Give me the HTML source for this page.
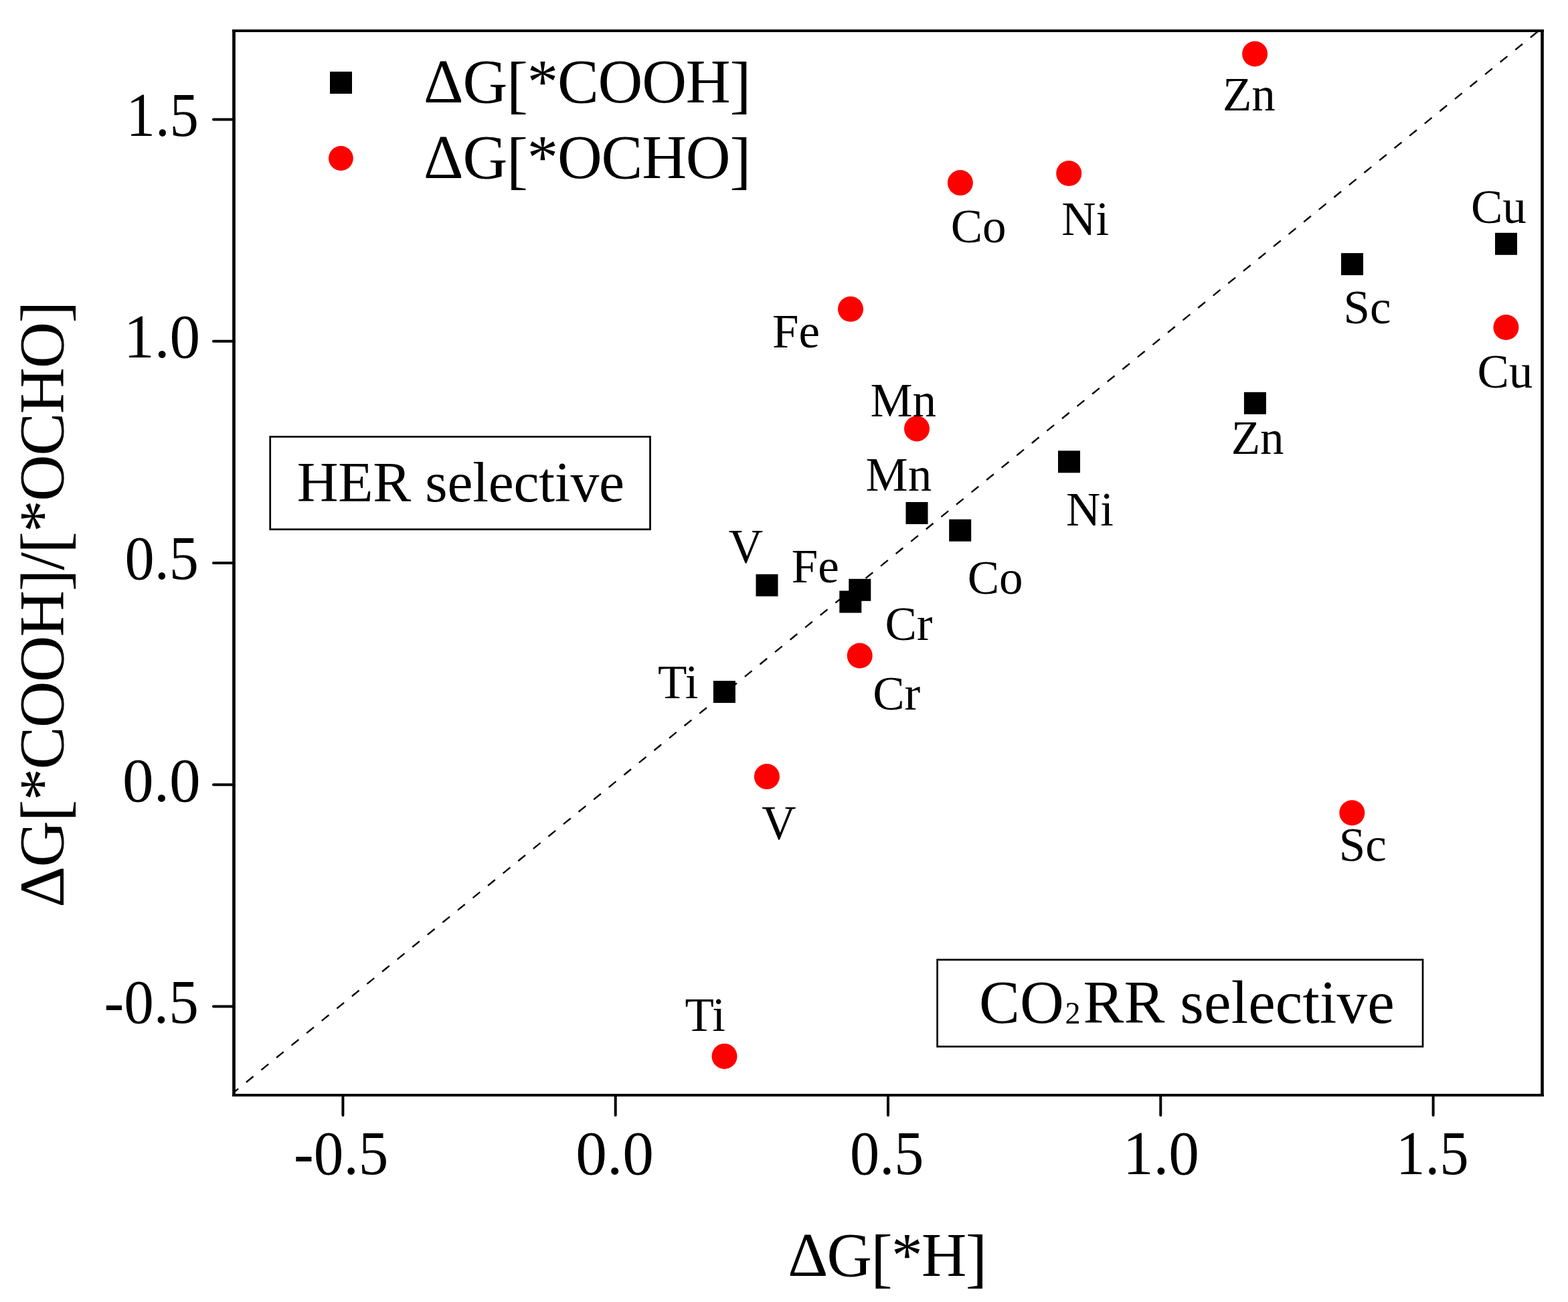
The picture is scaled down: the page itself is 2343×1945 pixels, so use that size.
<!DOCTYPE html>
<html><head><meta charset="utf-8"><title>Free energy comparison plot</title>
<style>html,body{margin:0;padding:0;background:#fff;overflow:hidden}svg{display:block}</style>
</head><body>
<svg width="2343" height="1945" viewBox="0 0 2343 1945" font-family="&quot;Liberation Serif&quot;, &quot;Times New Roman&quot;, serif">
<rect width="2343" height="1945" fill="#fff"/>
<line x1="349.5" y1="1631.7" x2="2300.44" y2="45.0" stroke="#000" stroke-width="2.4" stroke-dasharray="13.8 15.3" stroke-dashoffset="5.4"/>
<rect x="403.7" y="652.4" width="567.8" height="138.4" fill="none" stroke="#000" stroke-width="2.7"/>
<rect x="1400.6" y="1433.7" width="725.4" height="129.7" fill="none" stroke="#000" stroke-width="2.7"/>
<g fill="#000"><rect x="2234.0" y="347.8" width="33" height="33"/><rect x="2004.0" y="378.1" width="33" height="33"/><rect x="1858.9" y="585.8" width="33" height="33"/><rect x="1581.0" y="673.3" width="33" height="33"/><rect x="1353.5" y="750.0" width="33" height="33"/><rect x="1418.2" y="775.8" width="33" height="33"/><rect x="1129.5" y="857.8" width="33" height="33"/><rect x="1268.3" y="864.8" width="33" height="33"/><rect x="1254.3" y="882.5" width="33" height="33"/><rect x="1065.9" y="1017.0" width="33" height="33"/></g>
<g fill="#ff0000"><circle cx="1875.1" cy="80.5" r="19"/><circle cx="1434.9" cy="273.1" r="19"/><circle cx="1597.2" cy="259" r="19"/><circle cx="1271" cy="461.8" r="19"/><circle cx="2250.4" cy="489" r="19"/><circle cx="1370" cy="640.4" r="19"/><circle cx="1284.7" cy="979.5" r="19"/><circle cx="1145.9" cy="1160.1" r="19"/><circle cx="2020.3" cy="1214.3" r="19"/><circle cx="1082.5" cy="1577.9" r="19"/></g>
<rect x="493" y="107" width="33" height="33" fill="#000"/>
<circle cx="509.4" cy="236.5" r="18.4" fill="#ff0000"/>
<g stroke="#000" fill="none">
<line x1="349.5" y1="44.1" x2="349.5" y2="1637.9" stroke-width="4.7"/>
<line x1="2304.5" y1="44.1" x2="2304.5" y2="1637.9" stroke-width="4.6"/>
<line x1="347.15" y1="46.0" x2="2306.8" y2="46.0" stroke-width="3.8"/>
<line x1="347.15" y1="1636.0" x2="2306.8" y2="1636.0" stroke-width="3.9"/>
<line x1="512.4" y1="1636.0" x2="512.4" y2="1666.0" stroke-width="4" stroke-linecap="round"/>
<line x1="319.0" y1="1503.5" x2="349.5" y2="1503.5" stroke-width="4" stroke-linecap="round"/>
<line x1="919.7" y1="1636.0" x2="919.7" y2="1666.0" stroke-width="4" stroke-linecap="round"/>
<line x1="319.0" y1="1172.2" x2="349.5" y2="1172.2" stroke-width="4" stroke-linecap="round"/>
<line x1="1327.0" y1="1636.0" x2="1327.0" y2="1666.0" stroke-width="4" stroke-linecap="round"/>
<line x1="319.0" y1="841.0" x2="349.5" y2="841.0" stroke-width="4" stroke-linecap="round"/>
<line x1="1734.3" y1="1636.0" x2="1734.3" y2="1666.0" stroke-width="4" stroke-linecap="round"/>
<line x1="319.0" y1="509.8" x2="349.5" y2="509.8" stroke-width="4" stroke-linecap="round"/>
<line x1="2141.6" y1="1636.0" x2="2141.6" y2="1666.0" stroke-width="4" stroke-linecap="round"/>
<line x1="319.0" y1="178.5" x2="349.5" y2="178.5" stroke-width="4" stroke-linecap="round"/>
</g>
<text x="1826.9" y="164.8" font-size="71">Zn</text>
<text x="1420.7" y="361.6" font-size="71">Co</text>
<text x="1586.2" y="350.9" font-size="71">Ni</text>
<text x="2197.9" y="333.1" font-size="71">Cu</text>
<text x="2007.6" y="482.9" font-size="71">Sc</text>
<text x="1154.0" y="519.0" font-size="71">Fe</text>
<text x="2207.5" y="578.9" font-size="71">Cu</text>
<text x="1300.4" y="622.0" font-size="71">Mn</text>
<text x="1839.7" y="678.0" font-size="71">Zn</text>
<text x="1293.5" y="733.2" font-size="71">Mn</text>
<text x="1593.0" y="784.7" font-size="71">Ni</text>
<text x="1088.7" y="840.0" font-size="71">V</text>
<text x="1182.8" y="870.0" font-size="71">Fe</text>
<text x="1445.7" y="886.8" font-size="71">Co</text>
<text x="1322.4" y="955.6" font-size="71">Cr</text>
<text x="983.0" y="1042.9" font-size="71">Ti</text>
<text x="1304.2" y="1059.7" font-size="71">Cr</text>
<text x="1138.2" y="1252.9" font-size="71">V</text>
<text x="2000.8" y="1285.7" font-size="71">Sc</text>
<text x="1023.4" y="1539.7" font-size="71">Ti</text>
<text x="439.1" y="1753.9" font-size="94" textLength="141.27" lengthAdjust="spacingAndGlyphs">-0.5</text>
<text x="860.3" y="1753.9" font-size="94" textLength="116.75" lengthAdjust="spacingAndGlyphs">0.0</text>
<text x="1270.0" y="1753.9" font-size="94" textLength="110.35" lengthAdjust="spacingAndGlyphs">0.5</text>
<text x="1677.9" y="1753.9" font-size="94" textLength="114.07" lengthAdjust="spacingAndGlyphs">1.0</text>
<text x="2086.1" y="1753.9" font-size="94" textLength="108.54" lengthAdjust="spacingAndGlyphs">1.5</text>
<text x="188.5" y="202.7" font-size="94" textLength="108.54" lengthAdjust="spacingAndGlyphs">1.5</text>
<text x="185.0" y="534.0" font-size="94" textLength="114.07" lengthAdjust="spacingAndGlyphs">1.0</text>
<text x="186.5" y="865.2" font-size="94" textLength="110.35" lengthAdjust="spacingAndGlyphs">0.5</text>
<text x="183.0" y="1196.5" font-size="94" textLength="116.75" lengthAdjust="spacingAndGlyphs">0.0</text>
<text x="155.5" y="1527.7" font-size="94" textLength="141.27" lengthAdjust="spacingAndGlyphs">-0.5</text>
<text x="633.1" y="152.8" font-size="92.5" textLength="489.28" lengthAdjust="spacing"><tspan>&#916;G</tspan><tspan dy="5.4" font-size="95.7">[</tspan><tspan dy="-5.4">*COOH</tspan><tspan dy="5.4" font-size="95.7">]</tspan></text>
<text x="633.1" y="265.8" font-size="92.5" textLength="489.28" lengthAdjust="spacing"><tspan>&#916;G</tspan><tspan dy="5.4" font-size="95.7">[</tspan><tspan dy="-5.4">*OCHO</tspan><tspan dy="5.4" font-size="95.7">]</tspan></text>
<text x="1177.2" y="1905.8" font-size="93.3" textLength="298.03" lengthAdjust="spacing"><tspan>&#916;G</tspan><tspan dy="5.8" font-size="97.5">[</tspan><tspan dy="-5.8">*H</tspan><tspan dy="5.8" font-size="97.5">]</tspan></text>
<text x="443.7" y="748.9" font-size="85.5" textLength="489.19" lengthAdjust="spacing">HER selective</text>
<text x="1463.1" y="1528.3" font-size="91.2">CO</text>
<text x="1591.6" y="1528.6" font-size="46">2</text>
<text x="1618.4" y="1528.3" font-size="91.2" textLength="465.28" lengthAdjust="spacing">RR selective</text>
<text transform="translate(94.6,1355.7) rotate(-90)" x="0" y="0" font-size="96" textLength="906.20" lengthAdjust="spacing"><tspan>&#916;G</tspan><tspan dy="5" font-size="98.8">[</tspan><tspan dy="-5">*COOH</tspan><tspan dy="5" font-size="98.8">]</tspan><tspan dy="-5">/</tspan><tspan dy="5" font-size="98.8">[</tspan><tspan dy="-5">*OCHO</tspan><tspan dy="5" font-size="98.8">]</tspan></text>
</svg>
</body></html>
